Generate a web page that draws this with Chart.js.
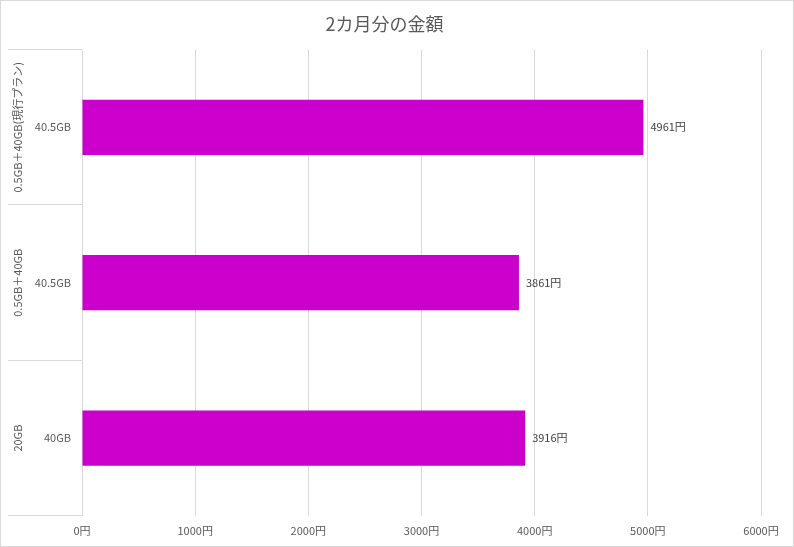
<!DOCTYPE html>
<html>
<head>
<meta charset="utf-8">
<script src="https://cdn.jsdelivr.net/npm/chart.js@4"></script>
<style>
  html, body { margin: 0; padding: 0; background: #fff; }
  #wrap { width: 794px; height: 547px; border: 1px solid #d9d9d9; box-sizing: border-box; }
  canvas { display: block; }
</style>
</head>
<body>
<div id="wrap"><canvas id="chart" width="792" height="545"></canvas></div>
<script>
// --- data ---
const groups = ['0.5GB＋40GB(現行プラン)', '0.5GB＋40GB', '20GB'];
const capacities = ['40.5GB', '40.5GB', '40GB'];
const amounts = [4961, 3861, 3916];
const xTicks = [0, 1000, 2000, 3000, 4000, 5000, 6000];

const FONT = "'Noto Sans CJK JP', 'Noto Sans', sans-serif";
const GRID = '#d9d9d9';
const TEXT = '#595959';

// value labels at the end of each bar
const valueLabels = {
    id: 'valueLabels',
    afterDatasetsDraw(chart) {
        const ctx = chart.ctx;
        const meta = chart.getDatasetMeta(0);
        ctx.save();
        ctx.font = '11px ' + FONT;
        ctx.fillStyle = '#404040';
        ctx.textAlign = 'left';
        ctx.textBaseline = 'middle';
        meta.data.forEach((bar, i) => {
            ctx.fillText(amounts[i] + '円', bar.x + 7, bar.y);
        });
        ctx.restore();
    }
};

// outer (group) labels, rotated
const groupLabels = {
    id: 'groupLabels',
    afterDraw(chart) {
        const ctx = chart.ctx;
        const y = chart.scales.y;
        ctx.save();
        ctx.font = '11px ' + FONT;
        ctx.fillStyle = TEXT;
        ctx.textAlign = 'center';
        ctx.textBaseline = 'middle';
        groups.forEach((g, i) => {
            ctx.save();
            ctx.translate(17, y.getPixelForTick(i));
            ctx.rotate(-Math.PI / 2);
            ctx.fillText(g, 0, 0);
            ctx.restore();
        });
        ctx.restore();
    }
};

new Chart(document.getElementById('chart'), {
    type: 'bar',
    data: {
        labels: capacities,
        datasets: [{
            data: amounts,
            backgroundColor: '#cc00cc',
            borderWidth: 0,
            categoryPercentage: 1,
            barPercentage: 0.355
        }]
    },
    options: {
        indexAxis: 'y',
        responsive: false,
        animation: false,
        layout: { padding: { left: 7, right: 32, top: 0, bottom: 1 } },
        scales: {
            x: {
                min: 0,
                max: 6000,
                afterBuildTicks(scale) {
                    scale.ticks = xTicks.map(v => ({ value: v }));
                },
                grid: { color: GRID, drawTicks: false },
                border: { display: false },
                ticks: {
                    padding: 8,
                    color: TEXT,
                    font: { family: FONT, size: 11 },
                    callback: v => v + '円'
                }
            },
            y: {
                afterFit(scale) { scale.width = 74; },
                grid: {
                    color: GRID,
                    drawOnChartArea: false,
                    tickLength: 74,
                    offset: true
                },
                border: { display: false },
                ticks: {
                    padding: -63,
                    color: TEXT,
                    font: { family: FONT, size: 11 }
                }
            }
        },
        plugins: {
            legend: { display: false },
            tooltip: { enabled: false },
            title: {
                display: true,
                text: '2カ月分の金額',
                color: TEXT,
                font: { family: FONT, size: 18, weight: 'normal' },
                padding: { top: 12, bottom: 15 }
            }
        }
    },
    plugins: [valueLabels, groupLabels]
});
</script>
</body>
</html>
